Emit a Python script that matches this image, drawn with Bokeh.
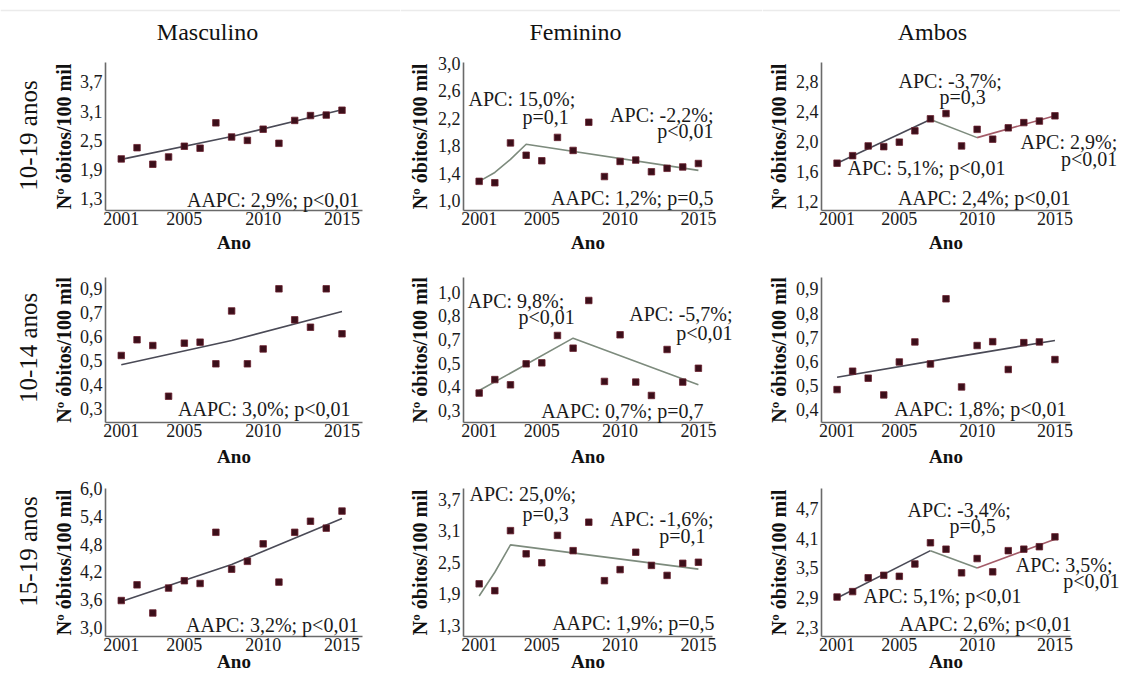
import math
from bokeh.plotting import figure
from bokeh.layouts import column, row
from bokeh.models import Label, FixedTicker, Range1d, CustomJSTickFormatter, Span
from bokeh.embed import file_html
from bokeh.resources import INLINE

FONT = "Liberation Serif"

years = list(range(2001, 2016))
x_ticks = [2001, 2005, 2010, 2015]
col_titles = ["Masculino", "Feminino", "Ambos"]
row_titles = ["10-19 anos", "10-14 anos", "15-19 anos"]

# ---- 10-19 anos ----
masc_10_19 = [2.12, 2.35, 2.01, 2.16, 2.38, 2.34, 2.86, 2.57, 2.50, 2.73, 2.44, 2.91, 3.01, 3.02, 3.12]
masc_10_19_fit_x = [2001, 2008, 2015]
masc_10_19_fit_y = [2.11, 2.58, 3.13]
masc_10_19_ticks = [1.3, 1.9, 2.5, 3.1, 3.7]
masc_10_19_labels = ["1,3", "1,9", "2,5", "3,1", "3,7"]

fem_10_19 = [1.28, 1.26, 1.84, 1.66, 1.58, 1.92, 1.73, 2.14, 1.35, 1.57, 1.59, 1.42, 1.47, 1.49, 1.54]
fem_10_19_fit_x = [2001, 2002, 2003, 2004, 2015]
fem_10_19_fit_y = [1.28, 1.41, 1.60, 1.82, 1.44]
fem_10_19_ticks = [1.0, 1.4, 1.8, 2.2, 2.6, 3.0]
fem_10_19_labels = ["1,0", "1,4", "1,8", "2,2", "2,6", "3,0"]

amb_10_19 = [1.71, 1.81, 1.94, 1.93, 1.99, 2.14, 2.30, 2.37, 1.94, 2.16, 2.03, 2.18, 2.25, 2.27, 2.34]
amb_10_19_fit_x = [2001, 2007, 2010, 2015]
amb_10_19_fit_y = [1.71, 2.29, 2.05, 2.34]
amb_10_19_ticks = [1.2, 1.6, 2.0, 2.4, 2.8]
amb_10_19_labels = ["1,2", "1,6", "2,0", "2,4", "2,8"]

# ---- 10-14 anos ----
masc_10_14 = [0.565, 0.644, 0.615, 0.360, 0.627, 0.632, 0.523, 0.789, 0.523, 0.598, 0.900, 0.744, 0.707, 0.900, 0.674]
masc_10_14_fit_x = [2001, 2008, 2015]
masc_10_14_fit_y = [0.518, 0.640, 0.786]
masc_10_14_ticks = [0.3, 0.42, 0.54, 0.66, 0.78, 0.9]
masc_10_14_labels = ["0,3", "0,4", "0,5", "0,6", "0,7", "0,9"]

fem_10_14 = [0.403, 0.483, 0.452, 0.576, 0.582, 0.744, 0.669, 0.951, 0.472, 0.748, 0.468, 0.389, 0.661, 0.468, 0.550]
fem_10_14_fit_x = [2001, 2007, 2015]
fem_10_14_fit_y = [0.418, 0.728, 0.452]
fem_10_14_ticks = [0.3, 0.44, 0.58, 0.72, 0.86, 1.0]
fem_10_14_labels = ["0,3", "0,4", "0,5", "0,7", "0,8", "1,0"]

amb_10_14 = [0.484, 0.560, 0.531, 0.462, 0.598, 0.681, 0.590, 0.859, 0.495, 0.666, 0.682, 0.567, 0.678, 0.681, 0.608]
amb_10_14_fit_x = [2001, 2008, 2015]
amb_10_14_fit_y = [0.535, 0.612, 0.687]
amb_10_14_ticks = [0.4, 0.5, 0.6, 0.7, 0.8, 0.9]
amb_10_14_labels = ["0,4", "0,5", "0,6", "0,7", "0,8", "0,9"]

# ---- 15-19 anos ----
masc_15_19 = [3.58, 3.92, 3.31, 3.85, 4.01, 3.95, 5.06, 4.26, 4.43, 4.81, 3.98, 5.06, 5.30, 5.15, 5.52]
masc_15_19_fit_x = [2001, 2008, 2015]
masc_15_19_fit_y = [3.56, 4.36, 5.36]
masc_15_19_ticks = [3.0, 3.6, 4.2, 4.8, 5.4, 6.0]
masc_15_19_labels = ["3,0", "3,6", "4,2", "4,8", "5,4", "6,0"]

fem_15_19 = [2.09, 1.96, 3.10, 2.66, 2.49, 3.01, 2.72, 3.26, 2.15, 2.36, 2.69, 2.44, 2.25, 2.48, 2.50]
fem_15_19_fit_x = [2001, 2002, 2003, 2015]
fem_15_19_fit_y = [1.86, 2.31, 2.83, 2.37]
fem_15_19_ticks = [1.3, 1.9, 2.5, 3.1, 3.7]
fem_15_19_labels = ["1,3", "1,9", "2,5", "3,1", "3,7"]

amb_15_19 = [2.91, 3.02, 3.30, 3.35, 3.33, 3.58, 4.01, 3.88, 3.40, 3.69, 3.42, 3.85, 3.88, 3.93, 4.13]
amb_15_19_fit_x = [2001, 2007, 2010, 2015]
amb_15_19_fit_y = [2.89, 3.85, 3.50, 4.08]
amb_15_19_ticks = [2.3, 2.9, 3.5, 4.1, 4.7]
amb_15_19_labels = ["2,3", "2,9", "3,5", "4,1", "4,7"]

# ---------------- layout / style ----------------
COL_W = [400, 362, 358]      # figure widths
COL_L = [105, 63, 59]        # axis-area left offset inside figure
COL_FW = [257, 249, 249]     # axis-area width
ROW_H = [255, 215, 203]
ROW_T = [62, 22, 18]
ROW_FH = [148, 145, 148]
X_RANGES = [(2000.0, 2016.3), (2000.0, 2015.9), (2000.0, 2016.0)]
YLAB_STANDOFF = [2, 4, 3]
ANO_OFFSET = [39, 41, 32]
TEXT_DY = 7   # baseline correction for text annotations (px, upwards)

DARK = "#4a4a56"
GREEN = "#7d8b7d"
RED = "#a35b68"
SINGLE_COLORS = [DARK, GREEN, DARK]

TITLE_X = [2006.47, 2007.15, 2007.13]
ROW_TITLE_Y = [2.60, 0.603, 4.644]

formatter_code = """
let best = 0; let bd = Infinity;
for (let i = 0; i < t.length; i++) {
  const d = Math.abs(t[i] - tick);
  if (d < bd) { bd = d; best = i; }
}
return l[best];
"""

panels = [
    [
        dict(v=masc_10_19, fx=masc_10_19_fit_x, fy=masc_10_19_fit_y, t=masc_10_19_ticks, l=masc_10_19_labels,
             yr=(1.06, 4.10), notes=[("AAPC: 2,9%; p<0,01", 2016.1, 1.142, "right")]),
        dict(v=fem_10_19, fx=fem_10_19_fit_x, fy=fem_10_19_fit_y, t=fem_10_19_ticks, l=fem_10_19_labels,
             yr=(0.856, 3.01), notes=[("APC: 15,0%;", 2000.32, 2.37, "left"), ("p=0,1", 2003.77, 2.108, "left"),
                                      ("APC: -2,2%;", 2015.96, 2.151, "right"), ("p<0,01", 2015.96, 1.918, "right"),
                                      ("AAPC: 1,2%; p=0,5", 2015.96, 0.929, "right")]),
        dict(v=amb_10_19, fx=amb_10_19_fit_x, fy=amb_10_19_fit_y, t=amb_10_19_ticks, l=amb_10_19_labels,
             yr=(1.08, 3.05), notes=[("APC: -3,7%;", 2004.95, 2.717, "left"), ("p=0,3", 2007.58, 2.504, "left"),
                                     ("APC: 5,1%; p<0,01", 2001.67, 1.546, "left"),
                                     ("APC: 2,9%;", 2019.0, 1.892, "right"), ("p<0,01", 2019.0, 1.666, "right"),
                                     ("AAPC: 2,4%; p<0,01", 2016.0, 1.147, "right")]),
    ],
    [
        dict(v=masc_10_14, fx=masc_10_14_fit_x, fy=masc_10_14_fit_y, t=masc_10_14_ticks, l=masc_10_14_labels,
             yr=(0.228, 0.957), notes=[("AAPC: 3,0%; p<0,01", 2015.54, 0.263, "right")]),
        dict(v=fem_10_14, fx=fem_10_14_fit_x, fy=fem_10_14_fit_y, t=fem_10_14_ticks, l=fem_10_14_labels,
             yr=(0.229, 1.087), notes=[("APC: 9,8%;", 2000.26, 0.904, "left"), ("p<0,01", 2003.51, 0.809, "left"),
                                       ("APC: -5,7%;", 2017.18, 0.827, "right"), ("p<0,01", 2017.18, 0.720, "right"),
                                       ("AAPC: 0,7%; p=0,7", 2015.33, 0.253, "right")]),
        dict(v=amb_10_14, fx=amb_10_14_fit_x, fy=amb_10_14_fit_y, t=amb_10_14_ticks, l=amb_10_14_labels,
             yr=(0.348, 0.947), notes=[("AAPC: 1,8%; p<0,01", 2015.75, 0.373, "right")]),
    ],
    [
        dict(v=masc_15_19, fx=masc_15_19_fit_x, fy=masc_15_19_fit_y, t=masc_15_19_ticks, l=masc_15_19_labels,
             yr=(2.80, 6.01), notes=[("AAPC: 3,2%; p<0,01", 2016.04, 2.887, "right")]),
        dict(v=fem_15_19, fx=fem_15_19_fit_x, fy=fem_15_19_fit_y, t=fem_15_19_ticks, l=fem_15_19_labels,
             yr=(1.09, 3.90), notes=[("APC: 25,0%;", 2000.38, 3.672, "left"), ("p=0,3", 2003.77, 3.292, "left"),
                                     ("APC: -1,6%;", 2015.96, 3.179, "right"), ("p=0,1", 2015.45, 2.856, "right"),
                                     ("AAPC: 1,9%; p=0,5", 2016.03, 1.204, "right")]),
        dict(v=amb_15_19, fx=amb_15_19_fit_x, fy=amb_15_19_fit_y, t=amb_15_19_ticks, l=amb_15_19_labels,
             yr=(2.11, 5.11), notes=[("APC: -3,4%;", 2005.53, 4.542, "left"), ("p=0,5", 2008.23, 4.218, "left"),
                                     ("APC: 5,1%; p<0,01", 2002.70, 2.799, "left"),
                                     ("APC: 3,5%;", 2018.70, 3.427, "right"), ("p<0,01", 2019.15, 3.083, "right"),
                                     ("AAPC: 2,6%; p<0,01", 2016.07, 2.231, "right")]),
    ],
]


def make_panel(r, c, spec):
    W, L, FW = COL_W[c], COL_L[c], COL_FW[c]
    H, T, FH = ROW_H[r], ROW_T[r], ROW_FH[r]
    x0, x1 = X_RANGES[c]
    y0, y1 = spec["yr"]
    # the plotting frame covers the whole figure; axes sit at fixed locations inside it
    kx = FW / (x1 - x0)
    ky = FH / (y1 - y0)
    xr = Range1d(x0 - L / kx, x0 + (W - L) / kx)
    yr = Range1d(y0 - (H - T - FH) / ky, y1 + T / ky)
    p = figure(width=W, height=H, output_backend="svg", toolbar_location=None,
               x_range=xr, y_range=yr, min_border=0,
               min_border_left=0, min_border_right=0, min_border_top=0, min_border_bottom=0,
               background_fill_color="white", border_fill_color="white")
    p.title.visible = False
    p.outline_line_color = None
    p.xgrid.visible = False
    p.ygrid.visible = False

    for ax in (p.xaxis, p.yaxis):
        ax.axis_line_color = "#6a6a6a"
        ax.axis_line_width = 1.6
        ax.major_tick_line_color = None
        ax.minor_tick_line_color = None
        ax.major_tick_out = 0
        ax.major_tick_in = 0
        ax.minor_tick_out = 0
        ax.minor_tick_in = 0
        ax.major_label_text_font = FONT
        ax.major_label_text_font_size = "18px"
        ax.major_label_text_color = "#1a1a1a"

    p.xaxis.fixed_location = y0
    p.xaxis.bounds = (x0, x1)
    p.xaxis.ticker = FixedTicker(ticks=x_ticks)
    p.xaxis.major_label_standoff = 1

    p.yaxis.fixed_location = x0
    p.yaxis.bounds = (y0, y1)
    p.yaxis.ticker = FixedTicker(ticks=spec["t"])
    p.yaxis.formatter = CustomJSTickFormatter(args=dict(t=spec["t"], l=spec["l"]), code=formatter_code)
    p.yaxis.major_label_standoff = 3
    p.yaxis.axis_label = "N\u00ba \u00f3bitos/100 mil"
    p.yaxis.axis_label_text_font = FONT
    p.yaxis.axis_label_text_font_style = "bold"
    p.yaxis.axis_label_text_font_size = "20px"
    p.yaxis.axis_label_text_color = "#111111"
    p.yaxis.axis_label_standoff = YLAB_STANDOFF[c]

    if r == 0:
        # faint rule near the top edge of the page
        p.add_layout(Span(location=y1 + (T - 10) / ky, dimension="width",
                          line_color="#ebebeb", line_width=1.5))

    # trend (joinpoint) segments
    fx, fy = spec["fx"], spec["fy"]
    if c == 2 and len(fx) == 4:
        seg_colors = [DARK, GREEN, RED]
        for i in range(3):
            p.line(fx[i:i + 2], fy[i:i + 2], line_color=seg_colors[i], line_width=1.6)
    else:
        p.line(fx, fy, line_color=SINGLE_COLORS[c], line_width=1.6)

    p.scatter(years, spec["v"], marker="square", size=6.5,
              fill_color="#3b0f1a", line_color="#6a2230", line_width=0.8)

    for text, x, y, align in spec["notes"]:
        p.add_layout(Label(x=x, y=y, y_offset=TEXT_DY, text=text, text_align=align,
                           text_baseline="alphabetic", text_font=FONT, text_font_size="20px",
                           text_color="#1a1a1a"))

    p.add_layout(Label(x=(x0 + x1) / 2, y=y0, y_offset=-(ANO_OFFSET[r] - TEXT_DY), text="Ano",
                       text_align="center", text_baseline="alphabetic", text_font=FONT,
                       text_font_style="bold", text_font_size="19px", text_color="#111111"))

    if r == 0:
        p.add_layout(Label(x=TITLE_X[c], y=y1, y_offset=24 + TEXT_DY, text=col_titles[c],
                           text_align="center", text_baseline="alphabetic", text_font=FONT,
                           text_font_size="24px", text_color="#111111"))
    if c == 0:
        p.add_layout(Label(x=x0, x_offset=-77, y=ROW_TITLE_Y[r], text=row_titles[r], angle=math.pi / 2,
                           text_align="center", text_baseline="middle", text_font=FONT,
                           text_font_size="25px", text_color="#111111"))
    return p


rows = []
for r in range(3):
    rows.append(row(*[make_panel(r, c, panels[r][c]) for c in range(3)]))
layout = column(*rows)

open("out.html", "w").write(file_html(layout, INLINE))
